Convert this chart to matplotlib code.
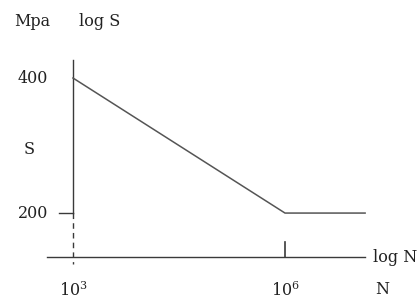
import matplotlib
matplotlib.use("Agg")
import matplotlib.pyplot as plt
import numpy as np

# S-N curve: cycles vs stress amplitude (MPa)
cycles = [1e3, 1e6, 1.36e7]
stress = [400, 200, 200]
y_ticks = [400, 200]
y_tick_labels = ["400", "200"]
x_ticks = [1e3, 1e6]
x_tick_labels = [r"$\mathregular{10^3}$", r"$\mathregular{10^6}$"]

plt.rcParams["font.family"] = ["DejaVu Serif"]
plt.rcParams["mathtext.fontset"] = "dejavuserif"

W, H = 418, 301
fig = plt.figure(figsize=(W / 100, H / 100), dpi=100)
ax = fig.add_axes([0, 0, 1, 1])
ax.set_xscale("log")
ax.set_yscale("log")
ax.set_xlim(10 ** 1.967, 10 ** 7.882)
ax.set_ylim(10 ** 2.105, 10 ** 2.776)
ax.axis("off")

axis_col = "#3a3a3a"
txt_col = "#222222"

# axes drawn as lines
ax.plot([10 ** 2.632, 1.37e7], [159.6, 159.6], color=axis_col, lw=1.0)
ax.plot([1e3, 1e3], [438.7, 200], color=axis_col, lw=1.0)
ax.plot([1e3, 1e3], [200, 153.8], color=axis_col, lw=1.0, ls=(0, (4, 3)))

# ticks
ax.plot([10 ** 2.8, 1e3], [200, 200], color=axis_col, lw=1.0)
ax.plot([1e6, 1e6], [159.6, 172], color=axis_col, lw=1.2)

# S-N curve
ax.plot(cycles, stress, color="#555555", lw=1.1)

fs = 11.5
for yv, lab in zip(y_ticks, y_tick_labels):
    ax.text(10 ** 2.43, yv, lab, ha="center", va="center", fontsize=fs, color=txt_col)
for xv, lab in zip(x_ticks, x_tick_labels):
    ax.text(xv, 134, lab, ha="center", va="center", fontsize=fs, color=txt_col)

def ftext(px, py, s, **kw):
    fig.text(px / W, 1 - py / H, s, ha="center", va="center", fontsize=fs, color=txt_col, **kw)

ftext(32, 21, "Mpa")
ftext(100, 21, "log S")
ftext(29, 149, "S")
ftext(382, 290, "N")
fig.text(373 / W, 1 - 257 / H, "log N", ha="left", va="center", fontsize=fs, color=txt_col)

fig.savefig("out.png", dpi=100)
